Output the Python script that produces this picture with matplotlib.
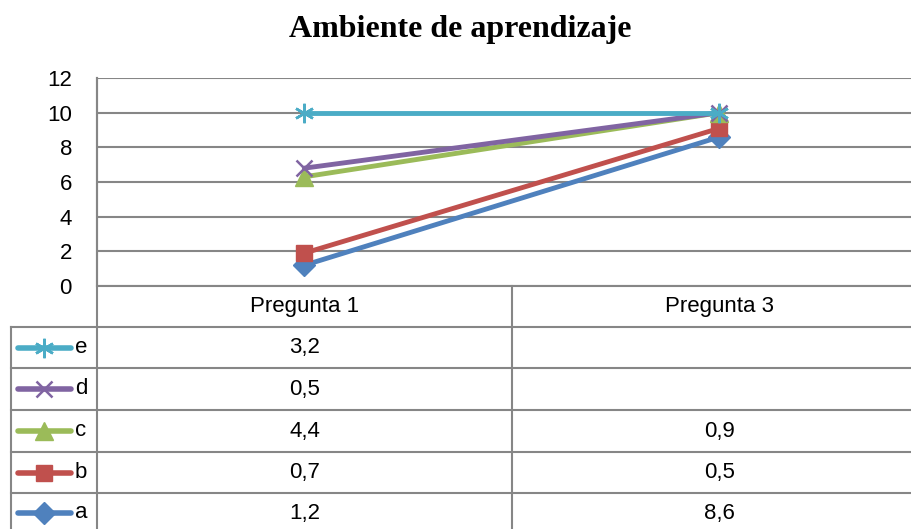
import numpy as np
import matplotlib.pyplot as plt

categories = ['Pregunta 1', 'Pregunta 3']
series_names = ['a', 'b', 'c', 'd', 'e']
a_vals = [1.2, 8.6]
b_vals = [0.7, 0.5]
c_vals = [4.4, 0.9]
d_vals = [0.5, None]
e_vals = [3.2, None]
yticks = [0, 2, 4, 6, 8, 10, 12]

series = [a_vals, b_vals, c_vals, d_vals, e_vals]
colors = ['#4F81BD', '#C0504D', '#9BBB59', '#8064A2', '#4BACC6']
markers = ['D', 's', '^', 'x', '*']
msizes = [11, 12, 13, 12, 14]
grid_c = '#868686'

W, H = 912, 529
fig = plt.figure(figsize=(W / 100, H / 100), dpi=100)

# main plot area (right edge runs past the image like the reference)
left, right, top, bottom = 97, 927, 78, 286
ax = fig.add_axes([left / W, 1 - bottom / H, (right - left) / W, (bottom - top) / H])
x = np.arange(len(categories))
cum = np.zeros(len(categories))
for vals, col, mk, ms in zip(series, colors, markers, msizes):
    v = np.array([0 if t is None else t for t in vals], dtype=float)
    cum = cum + v
    if mk == '*':
        ax.plot(x, cum, color=col, lw=3.5, marker=(6, 2, 0), ms=ms, mew=1.8, zorder=3)
    elif mk == 'x':
        ax.plot(x, cum, color=col, lw=3.5, marker='x', ms=ms, mew=1.8, zorder=3)
    else:
        ax.plot(x, cum, color=col, lw=3.5, marker=mk, ms=ms, zorder=3)
ax.set_xlim(-0.5, len(categories) - 0.5)
ax.set_ylim(0, 12)
ax.set_yticks(yticks)
ax.set_yticklabels([str(t) for t in yticks], fontsize=16, family='Liberation Sans')
ax.set_xticks([])
ax.tick_params(axis='y', length=0, pad=18)
ax.grid(axis='y', color=grid_c, lw=1.5)
for s in ['top', 'right', 'bottom']:
    ax.spines[s].set_visible(False)
ax.spines['left'].set_color(grid_c)
ax.spines['left'].set_linewidth(1.5)

fig.text(460 / W, 1 - 30 / H, 'Ambiente de aprendizaje', ha='center', va='center',
         fontsize=23, fontweight='bold', family='Liberation Serif')

# data table below the plot, in pixel coordinates
tb = fig.add_axes([0, 0, 1, 1], facecolor='none')
tb.set_xlim(0, W)
tb.set_ylim(H, 0)
tb.axis('off')
col_edges = [11, 97, 512, 927]
row_edges = [286, 327, 368, 410, 452, 493, 535]
lkw = dict(color=grid_c, lw=1.5)
tb.plot([col_edges[1], W], [row_edges[0]] * 2, **lkw)
for yy in row_edges[1:-1]:
    tb.plot([col_edges[0], W], [yy, yy], **lkw)
tb.plot([col_edges[0]] * 2, [row_edges[1], H], **lkw)
tb.plot([col_edges[1]] * 2, [top, H], **lkw)
tb.plot([col_edges[2]] * 2, [row_edges[0], H], **lkw)

tfont = dict(fontsize=16, family='Liberation Sans', va='center')
for j, cat in enumerate(categories):
    cx = (col_edges[j + 1] + col_edges[j + 2]) / 2
    tb.text(cx, (row_edges[0] + row_edges[1]) / 2, cat, ha='center', **tfont)

order = list(range(len(series)))[::-1]
for r, i in enumerate(order):
    cy = (row_edges[r + 1] + row_edges[r + 2]) / 2
    if r == len(order) - 1:
        cy = row_edges[r + 1] + 20
    col, mk, ms = colors[i], markers[i], msizes[i]
    tb.plot([18, 71], [cy, cy], color=col, lw=4, solid_capstyle='round')
    if mk == '*':
        tb.plot([44], [cy], color=col, marker=(6, 2, 0), ms=ms, mew=1.8)
    elif mk == 'x':
        tb.plot([44], [cy], color=col, marker='x', ms=ms, mew=1.8)
    else:
        tb.plot([44], [cy], color=col, marker=mk, ms=ms)
    tb.text(75, cy, series_names[i], ha='left', **tfont)
    for j, v in enumerate(series[i]):
        if v is None:
            continue
        cx = (col_edges[j + 1] + col_edges[j + 2]) / 2
        tb.text(cx, cy, f'{v:.1f}'.replace('.', ','), ha='center', **tfont)

fig.savefig('out.png', dpi=100)
